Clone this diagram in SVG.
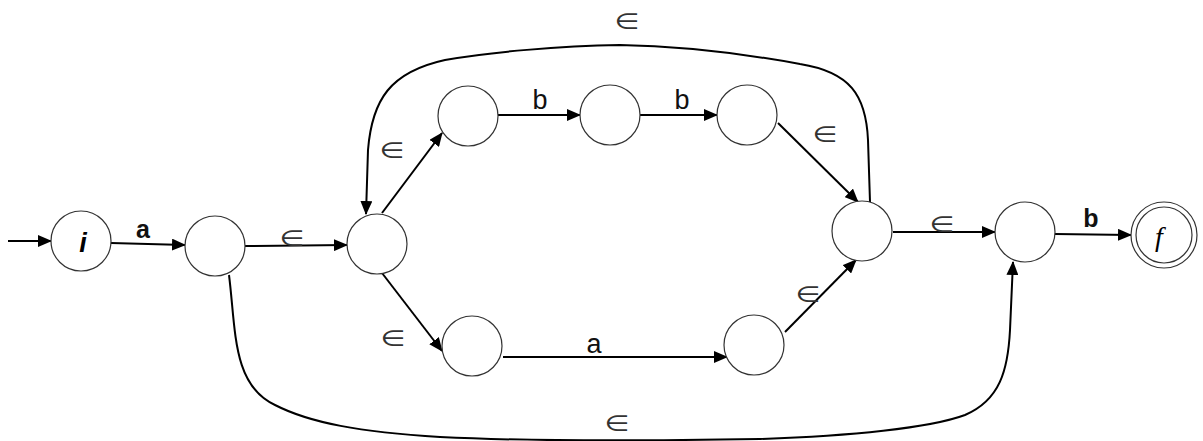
<svg xmlns="http://www.w3.org/2000/svg" width="1203" height="441" viewBox="0 0 1203 441">
<style>
.st{fill:#fff;stroke:#333;stroke-width:1.2}
.e{fill:none;stroke:#000;stroke-width:2}
.lb{font-family:"Liberation Sans",Arial,sans-serif;font-size:27px;fill:#111;text-anchor:middle}
.bd{font-weight:bold;font-size:25px}
.ep{font-family:"DejaVu Sans","Noto Sans",sans-serif;font-size:22px;fill:#333;text-anchor:middle}
</style>
<defs>
<marker id="ah" markerUnits="userSpaceOnUse" markerWidth="14" markerHeight="12" viewBox="0 0 14 12" refX="13" refY="6" orient="auto">
<path d="M0,0 L14,6 L0,12 z" fill="#000"/>
</marker>
</defs>
<g id="connectors">
<line class="e" x1="8" y1="241" x2="51" y2="241" marker-end="url(#ah)"/>
<line class="e" x1="111" y1="243" x2="185" y2="245" marker-end="url(#ah)"/>
<line class="e" x1="245" y1="246" x2="347" y2="245" marker-end="url(#ah)"/>
<line class="e" x1="382" y1="213" x2="442" y2="133" marker-end="url(#ah)"/>
<line class="e" x1="498" y1="115" x2="580" y2="115" marker-end="url(#ah)"/>
<line class="e" x1="640" y1="115" x2="717" y2="115" marker-end="url(#ah)"/>
<line class="e" x1="778" y1="123" x2="858" y2="202" marker-end="url(#ah)"/>
<line class="e" x1="382" y1="273" x2="442" y2="351" marker-end="url(#ah)"/>
<line class="e" x1="503" y1="357" x2="727" y2="357" marker-end="url(#ah)"/>
<line class="e" x1="785" y1="332" x2="856" y2="260" marker-end="url(#ah)"/>
<line class="e" x1="893" y1="232" x2="995" y2="232" marker-end="url(#ah)"/>
<line class="e" x1="1055" y1="234" x2="1131" y2="235" marker-end="url(#ah)"/>
<path class="e" d="M870 202 L868 140 C866 95 850 72 800 64 C740 53 680 46 620 45 C560 46 490 52 445 60 C390 72 372 100 368 150 L366 214" marker-end="url(#ah)"/>
<path class="e" d="M229 275 C236 330 232 385 275 405 C310 423 360 432 440 437 C520 441 640 441 760 439 C850 436 930 428 965 415 C1000 400 1008 370 1010 330 L1013 262" marker-end="url(#ah)"/>
<text class="lb bd" x="143" y="238">a</text>
<text class="ep" x="292" y="246" textLength="25" lengthAdjust="spacingAndGlyphs">∈</text>
<text class="ep" x="392" y="158" textLength="25" lengthAdjust="spacingAndGlyphs">∈</text>
<text class="lb" x="540" y="109">b</text>
<text class="lb" x="682" y="109">b</text>
<text class="ep" x="825" y="142" textLength="25" lengthAdjust="spacingAndGlyphs">∈</text>
<text class="ep" x="627" y="29" textLength="25" lengthAdjust="spacingAndGlyphs">∈</text>
<text class="ep" x="393" y="346" textLength="25" lengthAdjust="spacingAndGlyphs">∈</text>
<text class="lb" x="594" y="353">a</text>
<text class="ep" x="808" y="302" textLength="25" lengthAdjust="spacingAndGlyphs">∈</text>
<text class="ep" x="942" y="232" textLength="25" lengthAdjust="spacingAndGlyphs">∈</text>
<text class="ep" x="617" y="431" textLength="25" lengthAdjust="spacingAndGlyphs">∈</text>
<text class="lb bd" x="1091" y="227">b</text>
</g>
<g id="node-i"><circle class="st" cx="81" cy="241" r="30"/><text x="83" y="252" style="font-family:'Liberation Sans',Arial,sans-serif;font-size:27px;font-weight:bold;font-style:italic;text-anchor:middle">i</text></g>
<g id="node-1"><circle class="st" cx="215" cy="246" r="30"/></g>
<g id="node-2"><circle class="st" cx="377" cy="244" r="30"/></g>
<g id="node-3"><circle class="st" cx="468" cy="116" r="30"/></g>
<g id="node-4"><circle class="st" cx="610" cy="115" r="30"/></g>
<g id="node-5"><circle class="st" cx="747" cy="115" r="30"/></g>
<g id="node-6"><circle class="st" cx="472" cy="346" r="30"/></g>
<g id="node-7"><circle class="st" cx="754" cy="345" r="30"/></g>
<g id="node-8"><circle class="st" cx="862" cy="231" r="30"/></g>
<g id="node-9"><circle class="st" cx="1025" cy="232" r="30"/></g>
<g id="node-f"><circle class="st" cx="1164" cy="235" r="33"/><circle class="st" cx="1164" cy="235" r="28"/><text x="1159" y="246" style="font-family:'Liberation Serif','Times New Roman',serif;font-size:28px;font-style:italic;text-anchor:middle">f</text></g>
</svg>
